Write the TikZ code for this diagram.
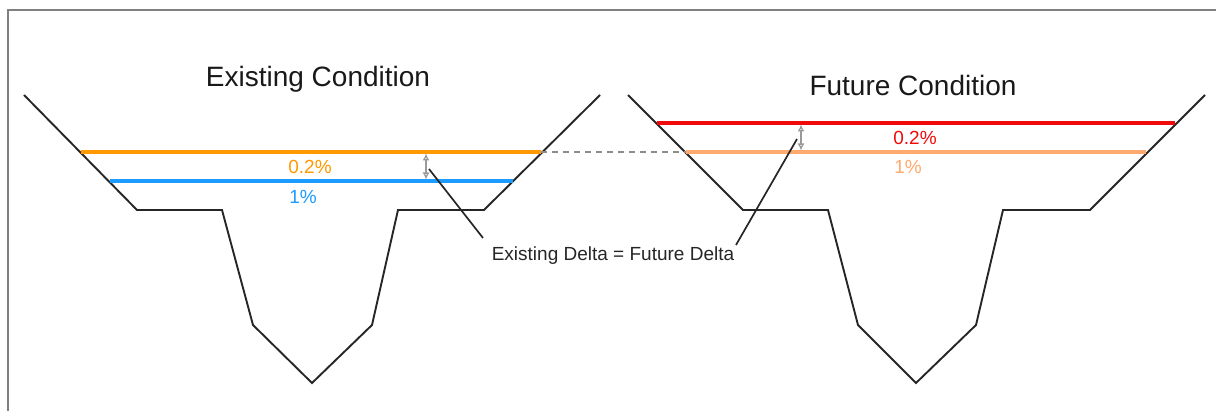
\documentclass[tikz,border=0pt]{standalone}
\usepackage{fontspec}
\setmainfont{Liberation Sans}
\usetikzlibrary{arrows.meta}
\definecolor{orng}{RGB}{255,153,0}
\definecolor{blu}{RGB}{30,155,255}
\definecolor{rd}{RGB}{240,10,10}
\definecolor{lorng}{RGB}{255,170,110}
\definecolor{frm}{RGB}{128,128,128}
\begin{document}
\begin{tikzpicture}[x=1pt,y=-1pt,
  channel/.style={draw=black!85,line width=1.9pt,line join=miter},
  level/.style={line width=3.2pt},
  dimarrow/.style={draw=black!40,line width=1.3pt,{Latex[open,length=7pt,width=7pt]}-{Latex[open,length=7pt,width=7pt]}},
  pointer/.style={draw=black!85,line width=1.7pt},
  title/.style={font=\fontsize{28}{32}\selectfont,text=black!90,inner sep=0pt},
  pct/.style={font=\fontsize{19}{22}\selectfont,inner sep=0pt},
  lbl/.style={font=\fontsize{19}{22}\selectfont,text=black!85,inner sep=0pt}]
\useasboundingbox (0,0) rectangle (1216,411);
% frame
\draw[frm,line width=2pt] (8,411) -- (8,10) -- (1216,10);
% titles
\node[title] (t1) at (318,79) {Existing Condition};
\node[title] (t2) at (913,85) {Future Condition};
% left channel
\draw[channel] (24,95) -- (137,210) -- (222,210) -- (253,325) -- (312,383) -- (372,325) -- (398,210) -- (484,210) -- (600,95);
% right channel
\draw[channel] (628,95) -- (743,210) -- (828,210) -- (858,325) -- (916,383) -- (976,325) -- (1003,210) -- (1090,210) -- (1205,95);
% levels left
\coordinate (lo1) at (81,152); \coordinate (lo2) at (541,152);
\coordinate (lb1) at (110,181); \coordinate (lb2) at (513,181);
\draw[level,orng] (lo1) -- (lo2);
\draw[level,blu] (lb1) -- (lb2);
% levels right
\coordinate (rr1) at (657,123); \coordinate (rr2) at (1175,123);
\coordinate (ro1) at (686,152); \coordinate (ro2) at (1146,152);
\draw[level,rd] (rr1) -- (rr2);
\draw[level,lorng] (ro1) -- (ro2);
% dashed connector
\draw[black!45,line width=2.4pt,dash pattern=on 6pt off 5pt] (lo2) -- (ro1);
% percent labels
\node[pct,text=orng] (l02) at (310,167) {0.2\%};
\node[pct,text=blu] (l1) at (303,197) {1\%};
\node[pct,text=rd] (r02) at (915,138) {0.2\%};
\node[pct,text=lorng] (r1) at (908,167) {1\%};
% dimension arrows
\coordinate (da1) at (426,153.5); \coordinate (da2) at (426,179.5);
\coordinate (db1) at (801,124.5); \coordinate (db2) at (801,150.5);
\draw[dimarrow] (da1) -- (da2);
\draw[dimarrow] (db1) -- (db2);
% label and pointers
\node[lbl] (delta) at (613,256) {Existing Delta = Future Delta};
\coordinate (p1) at (429,169); \coordinate (p1e) at (483,238);
\coordinate (p2) at (797,139); \coordinate (p2e) at (736,245);
\draw[pointer] (p1) -- (p1e);
\draw[pointer] (p2) -- (p2e);
\end{tikzpicture}
\end{document}
